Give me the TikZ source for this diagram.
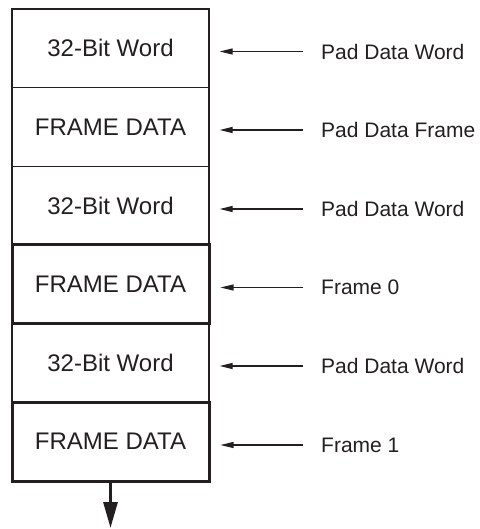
\documentclass[tikz,border=0pt]{standalone}
\usepackage{fontspec}
\setmainfont{Liberation Sans}
\usetikzlibrary{arrows.meta}
\definecolor{ink}{HTML}{231F20}
\begin{document}
\begin{tikzpicture}[x=1pt,y=-1pt,
  rowbox/.style={draw=ink,line width=1.3pt,minimum width=197pt,minimum height=78.67pt,inner sep=0pt,
    text=ink,font=\fontsize{24}{28}\selectfont},
  thickbox/.style={rowbox,line width=3pt},
  lbl/.style={anchor=west,inner sep=0pt,text=ink,font=\fontsize{21}{25}\selectfont},
  ptr/.style={draw=ink,line width=1.1pt,-{Triangle[length=13pt,width=6pt]}},
  downarr/.style={draw=ink,line width=3pt,-{Triangle[length=26pt,width=14pt]}}]
\useasboundingbox (0,0) rectangle (479,529);
\node[rowbox] (b1) at (110.5,48.33) {32-Bit Word};
\node[rowbox] (b2) at (110.5,127) {FRAME DATA};
\node[rowbox] (b3) at (110.5,205.67) {32-Bit Word};
\node[rowbox] (b5) at (110.5,363) {32-Bit Word};
\node[thickbox] (b4) at (110.5,284.33) {FRAME DATA};
\node[thickbox] (b6) at (110.5,441.67) {FRAME DATA};
\node[lbl] (l1) at (321,51.5) {Pad Data Word};
\node[lbl] (l2) at (321,130) {Pad Data Frame};
\node[lbl] (l3) at (321,209) {Pad Data Word};
\node[lbl] (l4) at (321,287.5) {Frame 0};
\node[lbl] (l5) at (321,366) {Pad Data Word};
\node[lbl] (l6) at (321,445) {Frame 1};
\foreach \i in {1,...,6}{
  \draw[ptr] ([xshift=-18pt]l\i.west) -- ([xshift=10pt]b\i.east |- l\i.west);
}
\coordinate (out) at (110.5,528);
\draw[downarr] (b6.south) -- (out);
\end{tikzpicture}
\end{document}
